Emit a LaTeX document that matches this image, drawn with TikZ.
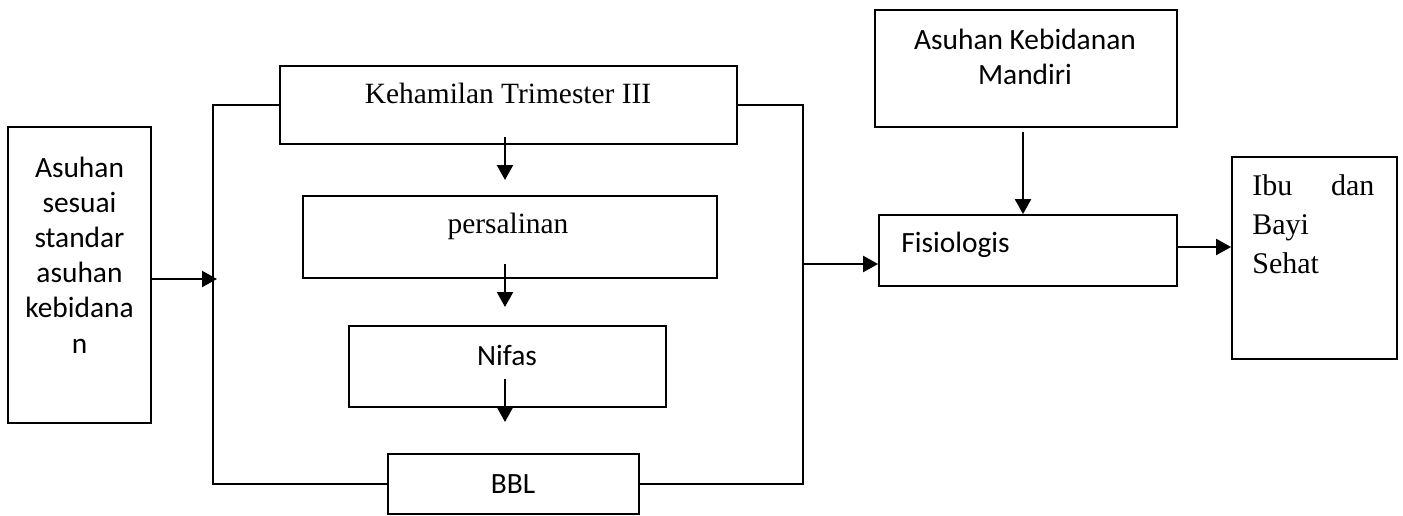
\documentclass[tikz,border=0pt]{standalone}
\usepackage{fontspec}
\setmainfont{Liberation Serif}
\newfontfamily\calib{Carlito}
\usetikzlibrary{arrows.meta}
\begin{document}
\begin{tikzpicture}[x=0.5pt,y=-0.5pt,
  box/.style={draw, line width=0.9pt, inner sep=0pt},
  arr/.style={line width=1.1pt, -{Triangle[length=7.5pt,width=8pt]}},
  ln/.style={line width=0.9pt},
  tnr/.style={font=\fontsize{14.7}{17}\selectfont, inner sep=0pt},
  cal/.style={font=\calib\fontsize{14.7}{17.6}\selectfont, inner sep=0pt}]
\useasboundingbox (0,0) rectangle (1403,515);
% boxes
\node[box, minimum width=71.5pt, minimum height=148pt] (L) at (79.5,275) {};
\node[box, minimum width=228.5pt, minimum height=39pt] (K) at (508.5,105) {};
\node[box, minimum width=207pt, minimum height=41pt] (P) at (510,237) {};
\node[box, minimum width=158.5pt, minimum height=40.5pt] (N) at (507.5,366.5) {};
\node[box, minimum width=125.5pt, minimum height=30pt] (B) at (513.5,484) {};
\node[box, minimum width=151pt, minimum height=58.5pt] (M) at (1026,68.5) {};
\node[box, minimum width=149pt, minimum height=35.5pt] (F) at (1028,250.5) {};
\node[box, minimum width=82.5pt, minimum height=101pt] (I) at (1314.5,258) {};
% texts
\node[cal, anchor=base] (Lt) at (79.5,177) {\parbox[t]{70pt}{\centering Asuhan\\sesuai\\standar\\asuhan\\kebidana\\n}};
\node[tnr, anchor=base] (Kt) at (508,103) {Kehamilan Trimester III};
\node[tnr, anchor=base] (Pt) at (508,233) {persalinan};
\node[cal, anchor=base] (Nt) at (507,365) {Nifas};
\node[cal, anchor=base] (Bt) at (513,493) {BBL};
\node[cal, anchor=base] (Mt) at (1025,49) {\parbox[t]{150pt}{\centering Asuhan Kebidanan\\Mandiri}};
\node[cal, anchor=base west] (Ft) at (901,252) {Fisiologis};
\node[tnr, font=\fontsize{15}{19.6}\selectfont, anchor=base west] (It) at (1252,195) {\parbox[t]{61pt}{Ibu\hfill dan\\Bayi\\Sehat}};
% bracket lines
\coordinate (cL) at (213,300);
\coordinate (cR) at (803,300);
\draw[ln] (K.west) -| (cL) |- (B.west);
\draw[ln] (K.east) -| (cR) |- (B.east);
% arrows
\coordinate (aL) at (217,279);
\draw[arr] (L.east |- aL) -- (aL);
\coordinate (aR) at (803,264);
\draw[arr] (aR) -- (F.west |- aR);
\coordinate (m1) at (1023,132);
\draw[arr] (m1) -- (m1 |- F.north);
\coordinate (f1) at (1177,247);
\draw[arr] (F.east |- f1) -- (I.west |- f1);
\coordinate (k1) at (505,137);
\coordinate (k2) at (505,180);
\draw[arr] (k1) -- (k2);
\coordinate (p1) at (505,264);
\coordinate (p2) at (505,307);
\draw[arr] (p1) -- (p2);
\coordinate (n1) at (505,379);
\coordinate (n2) at (505,422);
\draw[arr] (n1) -- (n2);
\end{tikzpicture}
\end{document}
